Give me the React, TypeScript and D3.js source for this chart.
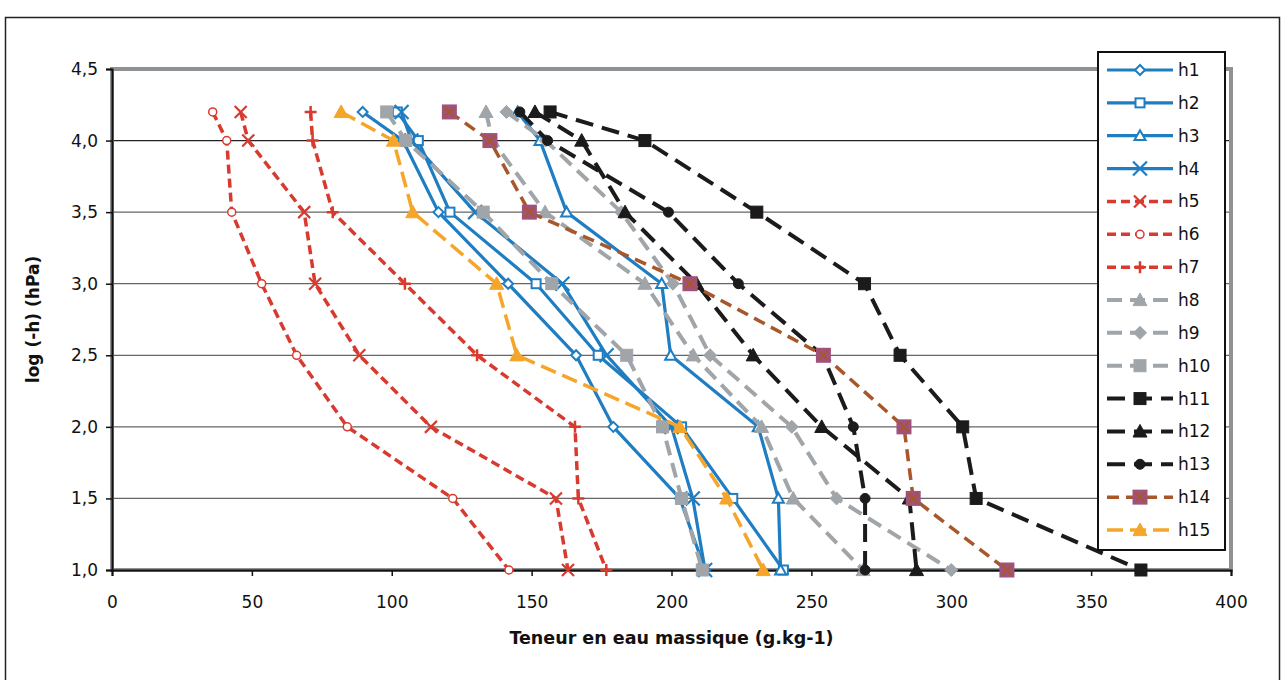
import React, { useRef, useEffect } from 'react';
import * as d3 from 'd3';

// niveaux de succion (log -h)
const levels = [4.2, 4.0, 3.5, 3.0, 2.5, 2.0, 1.5, 1.0];

const h1 = [89.6, 104, 116.7, 141.6, 165.9, 179.2, 203, 212];
const h2 = [102, 109.5, 120.8, 151.6, 173.8, 203.6, 221.9, 240];
const h3 = [145, 153, 162.5, 196.5, 199.7, 231, 238.2, 239];
const h4 = [103.5, 107, 129.8, 161, 176.8, 200, 207.6, 212];
const h5 = [46, 48.7, 68.7, 72.6, 88.4, 114, 158.7, 163];
const h6 = [36, 41, 42.8, 53.5, 66, 84.1, 121.8, 141.9];
const h7 = [71, 71.7, 78.9, 104.7, 130.5, 165.5, 166.7, 176.7];
const h8 = [133.7, 136, 154.8, 190.5, 207.8, 232.2, 243.5, 268.5];
const h9 = [141, 155, 182, 200.5, 213.8, 243, 259, 300];
const h10 = [98.2, 105, 132.7, 157.2, 184, 196.8, 203.6, 211];
const h11 = [156.6, 190.5, 230.5, 269, 281.7, 304.1, 308.9, 367.8];
const h12 = [151.2, 167.9, 183.4, 209, 229.2, 253.7, 285, 287.6];
const h13 = [145.8, 155.7, 198.9, 223.9, 254, 265, 269.2, 269.2];
const h14 = [120.6, 135.1, 149.2, 206.6, 254.3, 283.1, 286.4, 319.9];
const h15 = [81.9, 100.6, 107.5, 137.5, 144.7, 203, 219.7, 232.8];

const xTicks = [0, 50, 100, 150, 200, 250, 300, 350, 400];
const yTicks = [1.0, 1.5, 2.0, 2.5, 3.0, 3.5, 4.0, 4.5];

const BLUE = '#1f7dc2';
const RED = '#d93a2f';
const GRAY = '#a0a5aa';
const BLACK = '#1c1a1a';
const BROWN = '#a8572a';
const MAUVE = '#a0527f';
const ORANGE = '#f5a62a';

const series = [
  { name: 'h1', values: h1, color: BLUE, dash: null, width: 3.2, marker: 'diamond', hollow: true },
  { name: 'h2', values: h2, color: BLUE, dash: null, width: 3.2, marker: 'square', hollow: true },
  { name: 'h3', values: h3, color: BLUE, dash: null, width: 3.2, marker: 'triangle', hollow: true },
  { name: 'h4', values: h4, color: BLUE, dash: null, width: 3.2, marker: 'x', hollow: true },
  { name: 'h5', values: h5, color: RED, dash: '9,5', width: 3.5, marker: 'x', hollow: true },
  { name: 'h6', values: h6, color: RED, dash: '9,5', width: 3.5, marker: 'circle', hollow: true },
  { name: 'h7', values: h7, color: RED, dash: '9,5', width: 3.5, marker: 'plus', hollow: true },
  { name: 'h8', values: h8, color: GRAY, dash: '15,8', width: 4, marker: 'triangle', hollow: false },
  { name: 'h9', values: h9, color: GRAY, dash: '15,8', width: 4, marker: 'diamond', hollow: false },
  { name: 'h10', values: h10, color: GRAY, dash: '15,8', width: 4, marker: 'square', hollow: false },
  { name: 'h11', values: h11, color: BLACK, dash: '18,9', width: 4, marker: 'square', hollow: false },
  { name: 'h12', values: h12, color: BLACK, dash: '18,9', width: 4, marker: 'triangle', hollow: false },
  { name: 'h13', values: h13, color: BLACK, dash: '18,9', width: 4, marker: 'circle', hollow: false },
  { name: 'h14', values: h14, color: BROWN, dash: '12,7', width: 3.5, marker: 'boxx', hollow: false },
  { name: 'h15', values: h15, color: ORANGE, dash: '16,7', width: 3.5, marker: 'triangle', hollow: false },
];

function drawMarker(g, s, cx, cy) {
  const c = s.color;
  const fill = s.hollow ? '#fff' : c;
  const sw = s.hollow ? 2 : 1;
  switch (s.marker) {
    case 'diamond': {
      const r = s.hollow ? 5 : 6.5;
      g.append('path')
        .attr('d', `M${cx},${cy - r}L${cx + r},${cy}L${cx},${cy + r}L${cx - r},${cy}Z`)
        .attr('fill', fill).attr('stroke', c).attr('stroke-width', sw);
      break;
    }
    case 'square': {
      const r = s.hollow ? 4.5 : 6;
      g.append('rect')
        .attr('x', cx - r).attr('y', cy - r).attr('width', 2 * r).attr('height', 2 * r)
        .attr('fill', fill).attr('stroke', c).attr('stroke-width', sw);
      break;
    }
    case 'triangle': {
      const r = s.hollow ? 5.5 : 7;
      g.append('path')
        .attr('d', `M${cx},${cy - r}L${cx + r},${cy + r * 0.8}L${cx - r},${cy + r * 0.8}Z`)
        .attr('fill', fill).attr('stroke', c).attr('stroke-width', sw);
      break;
    }
    case 'circle': {
      const r = s.hollow ? 4 : 5;
      g.append('circle')
        .attr('cx', cx).attr('cy', cy).attr('r', r)
        .attr('fill', fill).attr('stroke', c).attr('stroke-width', s.hollow ? 1.5 : 1);
      break;
    }
    case 'x': {
      const r = s.name === 'h4' ? 7 : 6;
      g.append('path')
        .attr('d', `M${cx - r},${cy - r}L${cx + r},${cy + r}M${cx - r},${cy + r}L${cx + r},${cy - r}`)
        .attr('stroke', c).attr('stroke-width', 2.2).attr('fill', 'none');
      break;
    }
    case 'plus': {
      const r = 6;
      g.append('path')
        .attr('d', `M${cx - r},${cy}L${cx + r},${cy}M${cx},${cy - r}L${cx},${cy + r}`)
        .attr('stroke', c).attr('stroke-width', 2.5).attr('fill', 'none');
      break;
    }
    case 'boxx': {
      const r = 7.5;
      g.append('rect')
        .attr('x', cx - r).attr('y', cy - r).attr('width', 2 * r).attr('height', 2 * r)
        .attr('fill', MAUVE);
      const k = 5;
      g.append('path')
        .attr('d', `M${cx - k},${cy - k}L${cx + k},${cy + k}M${cx - k},${cy + k}L${cx + k},${cy - k}`)
        .attr('stroke', BROWN).attr('stroke-width', 2).attr('fill', 'none');
      break;
    }
    default:
      break;
  }
}

export default function App() {
  const svgRef = useRef(null);

  useEffect(() => {
    document.body.style.margin = '0';
    const svg = d3.select(svgRef.current);
    svg.selectAll('*').remove();

    const margin = { left: 112, right: 1231, top: 69, bottom: 570 };
    const x = d3.scaleLinear().domain([0, 400]).range([margin.left, margin.right]);
    const y = d3.scaleLinear().domain([1, 4.5]).range([margin.bottom, margin.top]);
    const font = '"DejaVu Sans", "Liberation Sans", Arial, sans-serif';

    // cadre extérieur
    svg.append('rect')
      .attr('x', 5.5).attr('y', 17.5).attr('width', 1274).attr('height', 700)
      .attr('fill', '#fff').attr('stroke', '#222').attr('stroke-width', 1.5);

    // grille horizontale
    svg.append('g')
      .selectAll('line')
      .data(yTicks.filter((d) => d > 1 && d < 4.5))
      .join('line')
      .attr('x1', x(0)).attr('x2', x(400))
      .attr('y1', (d) => y(d)).attr('y2', (d) => y(d))
      .attr('stroke', (d) => (d === 4 ? '#222' : '#666'))
      .attr('stroke-width', 1.2);

    // bordure de la zone de tracé
    svg.append('rect')
      .attr('x', x(0)).attr('y', y(4.5)).attr('width', x(400) - x(0)).attr('height', y(1) - y(4.5))
      .attr('fill', 'none').attr('stroke', '#8f9294').attr('stroke-width', 4);

    // axes
    const yAxis = svg.append('g').attr('transform', `translate(${x(0)},0)`)
      .call(d3.axisLeft(y).tickValues(yTicks).tickSize(6).tickPadding(8)
        .tickFormat((d) => d3.format('.1f')(d).replace('.', ',')));
    yAxis.select('.domain').attr('stroke', '#111').attr('stroke-width', 2);
    yAxis.selectAll('.tick line').attr('stroke', '#111').attr('stroke-width', 1.5);
    yAxis.selectAll('text').attr('font-family', font).attr('font-size', 17).attr('fill', '#111');

    const xAxis = svg.append('g').attr('transform', `translate(0,${y(1)})`)
      .call(d3.axisBottom(x).tickValues(xTicks).tickSize(6).tickPadding(20));
    xAxis.select('.domain').attr('stroke', '#111').attr('stroke-width', 2);
    xAxis.selectAll('.tick line').attr('stroke', '#111').attr('stroke-width', 1.5);
    xAxis.selectAll('text').attr('font-family', font).attr('font-size', 17).attr('fill', '#111');

    // titres d'axes
    svg.append('text')
      .attr('x', (x(0) + x(400)) / 2).attr('y', 644)
      .attr('text-anchor', 'middle')
      .attr('font-family', font).attr('font-size', 17.5).attr('font-weight', 'bold').attr('fill', '#111')
      .text('Teneur en eau massique (g.kg-1)');
    svg.append('text')
      .attr('transform', `translate(39,${(y(1) + y(4.5)) / 2}) rotate(-90)`)
      .attr('text-anchor', 'middle')
      .attr('font-family', font).attr('font-size', 17).attr('font-weight', 'bold').attr('fill', '#111')
      .text('log (-h) (hPa)');

    // séries
    const line = d3.line().x((d) => x(d[0])).y((d) => y(d[1]));
    series.forEach((s) => {
      const pts = s.values.map((v, i) => [v, levels[i]]);
      const g = svg.append('g');
      g.append('path')
        .attr('d', line(pts))
        .attr('fill', 'none')
        .attr('stroke', s.color)
        .attr('stroke-width', s.width)
        .attr('stroke-dasharray', s.dash)
        .attr('stroke-linejoin', 'round');
      pts.forEach((p) => drawMarker(g, s, x(p[0]), y(p[1])));
    });

    // légende
    const lg = svg.append('g');
    lg.append('rect')
      .attr('x', 1098).attr('y', 52).attr('width', 127).attr('height', 498)
      .attr('fill', '#fff').attr('stroke', '#111').attr('stroke-width', 2);
    const step = (530 - 70) / (series.length - 1);
    series.forEach((s, i) => {
      const cy = 70 + i * step;
      lg.append('line')
        .attr('x1', 1107).attr('x2', 1173).attr('y1', cy).attr('y2', cy)
        .attr('stroke', s.color).attr('stroke-width', s.width)
        .attr('stroke-dasharray', s.dash);
      drawMarker(lg, s, 1140, cy);
      lg.append('text')
        .attr('x', 1178).attr('y', cy + 6)
        .attr('font-family', font).attr('font-size', 17).attr('fill', '#111')
        .text(s.name);
    });
  }, []);

  return <svg ref={svgRef} width={1286} height={680} style={{ display: 'block' }} />;
}
